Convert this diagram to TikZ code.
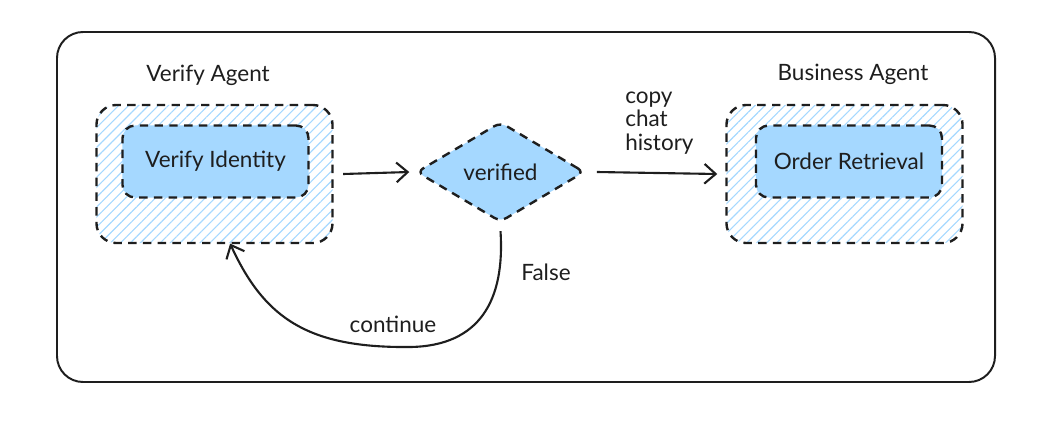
\documentclass[tikz,border=0pt]{standalone}
\usepackage{fontspec}
\setmainfont{Lato}
\usetikzlibrary{shapes.geometric,patterns.meta,arrows.meta}
\definecolor{boxblue}{HTML}{A5D8FF}
\definecolor{inkgray}{HTML}{1E1E1E}
\begin{document}
\begin{tikzpicture}[x=0.025cm, y=-0.025cm, font=\fontsize{16}{18}\selectfont, text=inkgray]
        \tikzstyle{agentbox}=[draw=inkgray, line width=1.7pt, dash pattern=on 6pt off 4.5pt, rounded corners=14pt, minimum width=5.9cm, minimum height=3.45cm, pattern={Lines[angle=45,distance=5pt,line width=0.8pt]}, pattern color=boxblue]
        \tikzstyle{taskbox}=[draw=inkgray, line width=1.7pt, dash pattern=on 6pt off 4.5pt, rounded corners=9pt, fill=boxblue, minimum width=4.65cm, minimum height=1.8cm]
        \tikzstyle{decision}=[draw=inkgray, line width=1.7pt, dash pattern=on 6pt off 4.5pt, diamond, rounded corners=5pt, fill=boxblue, minimum width=4.2cm, minimum height=2.5cm, inner sep=0pt]
        \tikzstyle{flow}=[draw=inkgray, line width=1.5pt, -{Straight Barb[length=8pt, width=14pt, line width=1.5pt]}]

        \useasboundingbox (0,0) rectangle (1044,423);
        \draw[inkgray, line width=1.4pt, rounded corners=0.65cm] (57,32) rectangle (995,382);

% left agent with its task
        \node (vtitle) at (208,75) {Verify Agent};
        \node[agentbox] (vagent) at (214.5,174) {};
        \node[taskbox] (vtask) at (215.5,161.5) {Verify Identity};

% check in the middle
        \node[decision] (verified) at (500.5,172) {verified};

% right agent with its task
        \node (btitle) at (853,74) {Business Agent};
        \node[agentbox] (bagent) at (844.5,174) {};
        \node[taskbox] (btask) at (849,161.5) {Order Retrieval};

        \draw[flow] ([xshift=0.25cm]vagent.east) -- ([xshift=-0.15cm]verified.west);
        \draw[flow] ([xshift=0.28cm]verified.east) -- ([xshift=-0.2cm]bagent.west);
        \node[anchor=west, align=left, inner sep=0pt, font=\fontsize{16}{16.5}\selectfont] (copylbl) at (625,123) {copy\\chat\\history};

        \draw[flow] ([yshift=-0.2cm]verified.south) .. controls (505,300) and (480,346) .. (410,347)
            .. controls (310,348) and (265,320) .. ([xshift=0.39cm]vagent.south);
        \node (falselbl) at (546,272) {False};
        \node (contlbl) at (393,324) {continue};
    \end{tikzpicture}
\end{document}
